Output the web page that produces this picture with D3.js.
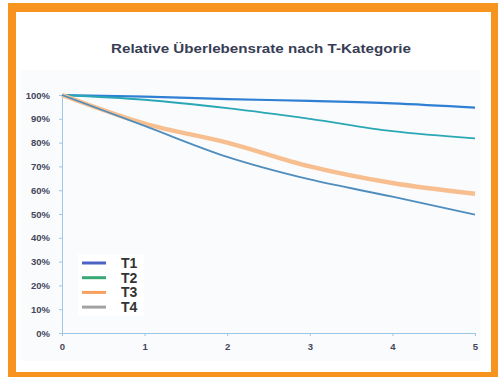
<!DOCTYPE html>
<html>
<head>
<meta charset="utf-8">
<script src="https://cdn.jsdelivr.net/npm/d3@7"></script>
<style>
  html, body { margin: 0; padding: 0; background: #fff; }
  svg { display: block; }
</style>
</head>
<body>
<svg id="chart" width="498" height="377"></svg>
<script>
// Years since diagnosis
const years = [0, 1, 2, 3, 4, 5];
// Relative survival (%) per T category
const t1 = [100, 99.3, 98.3, 97.5, 96.5, 94.7];
const t2 = [100, 98, 94.5, 90, 84.8, 81.8];
const t3 = [100, 88, 80, 70, 63, 58.5];
const t4 = [100, 87, 74, 64.5, 57.3, 49.7];
const seriesNames = ["T1", "T2", "T3", "T4"];
const yTicks = [0, 10, 20, 30, 40, 50, 60, 70, 80, 90, 100];
const title = "Relative Überlebensrate nach T-Kategorie";

const lineColors = ["#2f7fd3", "#2aa7b5", "#f7bf8f", "#4f8dbd"];
const lineWidths = [2.2, 1.8, 4.5, 1.8];
const legendColors = ["#4b63c4", "#3aa874", "#f7a05e", "#a2a2a2"];

const series = [t1, t2, t3, t4].map((vals, i) => ({
  name: seriesNames[i],
  values: years.map((x, j) => ({ x, y: vals[j] }))
}));

const svg = d3.select("#chart");
const font = "Liberation Sans, Arial, sans-serif";

// Orange frame
svg.append("rect").attr("x", 8).attr("y", 3).attr("width", 490).attr("height", 374)
  .attr("fill", "#f7941d");
svg.append("rect").attr("x", 16).attr("y", 12).attr("width", 475).attr("height", 360)
  .attr("fill", "#ffffff");
// Chart area
svg.append("rect").attr("x", 21).attr("y", 70).attr("width", 460).attr("height", 291)
  .attr("fill", "#fafbfd");

svg.append("text")
  .attr("x", 261).attr("y", 53)
  .attr("text-anchor", "middle")
  .attr("font-family", font)
  .attr("font-weight", "bold")
  .attr("font-size", 13)
  .attr("textLength", 300)
  .attr("lengthAdjust", "spacingAndGlyphs")
  .attr("fill", "#383d55")
  .text(title);

const x = d3.scaleLinear().domain([0, 5]).range([62, 475]);
const y = d3.scaleLinear().domain([0, 100]).range([333, 95]);

const axisColor = "#9cc8e6";

const yAxis = svg.append("g")
  .attr("transform", "translate(62,0)")
  .call(d3.axisLeft(y).tickValues(yTicks).tickFormat(d => d + "%").tickSize(3).tickPadding(9));
const xAxis = svg.append("g")
  .attr("transform", "translate(0,333)")
  .call(d3.axisBottom(x).tickValues(years).tickFormat(d3.format("d")).tickSize(3).tickPadding(7));

[yAxis, xAxis].forEach(g => {
  g.select(".domain").attr("stroke", axisColor).attr("stroke-width", 1);
  g.selectAll(".tick line").attr("stroke", axisColor);
  g.selectAll(".tick text")
    .attr("font-family", font)
    .attr("font-weight", "bold")
    .attr("font-size", 9.5)
    .attr("fill", "#43465a");
});

const line = d3.line().x(d => x(d.x)).y(d => y(d.y)).curve(d3.curveMonotoneX);

svg.append("g").selectAll("path")
  .data(series)
  .join("path")
  .attr("fill", "none")
  .attr("stroke", (d, i) => lineColors[i])
  .attr("stroke-width", (d, i) => lineWidths[i])
  .attr("stroke-linejoin", "round")
  .attr("d", d => line(d.values));

// Legend
const legend = svg.append("g");
legend.append("rect").attr("x", 78).attr("y", 254).attr("width", 66).attr("height", 62)
  .attr("fill", "#ffffff");
const items = legend.selectAll("g.item")
  .data(seriesNames)
  .join("g")
  .attr("class", "item")
  .attr("transform", (d, i) => `translate(0,${263 + i * 14.7})`);
items.append("line")
  .attr("x1", 82).attr("x2", 106)
  .attr("stroke", (d, i) => legendColors[i])
  .attr("stroke-width", 3);
items.append("text")
  .attr("x", 121).attr("y", 5)
  .attr("font-family", font)
  .attr("font-weight", "bold")
  .attr("font-size", 14)
  .attr("fill", "#333")
  .text(d => d);
</script>
</body>
</html>
